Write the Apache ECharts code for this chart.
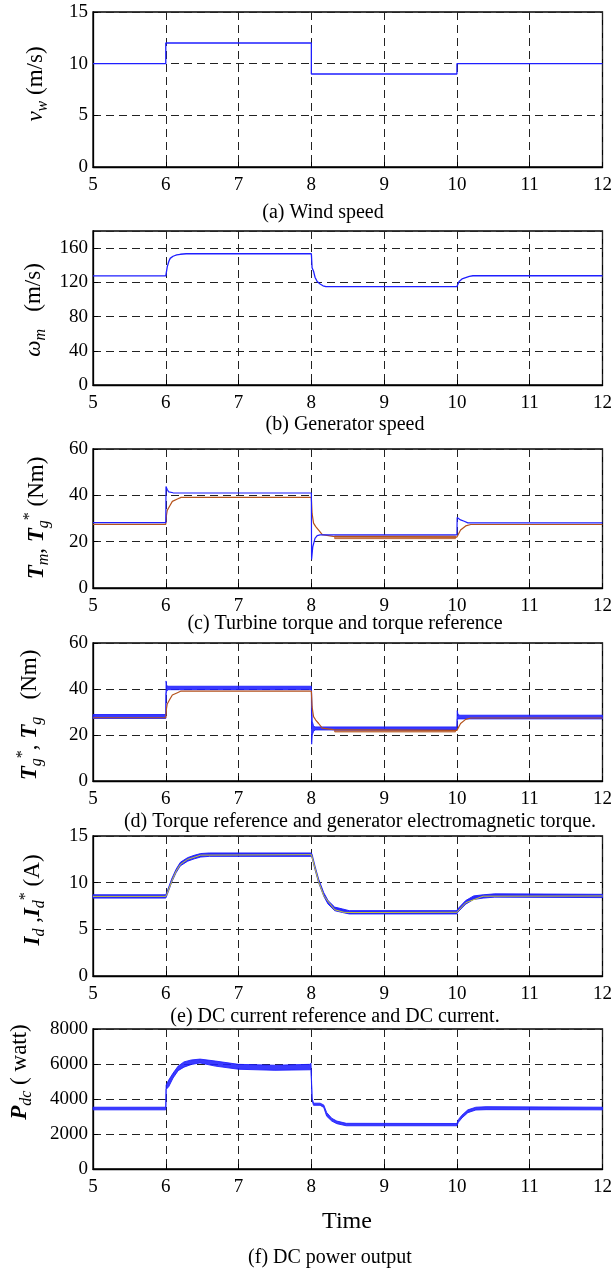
<!DOCTYPE html>
<html>
<head>
<meta charset="utf-8">
<script src="https://cdn.jsdelivr.net/npm/echarts@6/dist/echarts.min.js"></script>
<style>
  html, body { margin: 0; padding: 0; background: #fff; }
  #chart { width: 615px; height: 1273px; }
</style>
</head>
<body>
<div id="chart"></div>
<script>
// x ticks shared by all panels
var timeTicks = [5, 6, 7, 8, 9, 10, 11, 12];

// (a) wind speed
var windT = [5, 6, 6, 8, 8, 10, 10, 12];
var windV = [10, 10, 12, 12, 9, 9, 10, 10];

// (b) generator speed
var speedT = [5, 6, 6.02, 6.04, 6.06, 6.1, 6.15, 6.2, 6.28, 8, 8.01, 8.03, 8.05, 8.08, 8.12, 8.16, 8.2, 10, 10.03, 10.07, 10.12, 10.17, 10.22, 12];
var speedV = [127.5, 127.5, 138, 144, 148, 150.5, 152, 152.8, 153.4, 153.4, 137, 133, 126, 121, 118, 116, 115, 115, 121, 124, 125.5, 127, 127.7, 127.7];

// (c) turbine torque Tm (blue)
var tmT = [5, 6, 6.003, 6.02, 6.04, 6.06, 6.1, 6.13, 8, 8.003, 8.02, 8.05, 8.08, 8.12, 10, 10.003, 10.05, 10.1, 10.15, 12];
var tmV = [28.2, 28.2, 43.8, 42.5, 41.5, 41.8, 41.1, 41.0, 41.0, 12.3, 17.8, 21.4, 22.6, 22.9, 22.9, 30.4, 29.4, 28.8, 28.1, 28.1];

// torque reference Tg* (brown), used in (c) and (d)
var trT = [5, 6, 6.01, 6.02, 6.05, 6.09, 6.16, 6.21, 8, 8.01, 8.03, 8.06, 8.1, 8.15, 8.3, 10, 10.05, 10.12, 10.19, 12];
var trV = [27.5, 27.5, 31.6, 33.5, 35.2, 37.4, 38.4, 39.1, 39.1, 32.2, 28, 26.5, 25, 23, 22.3, 22, 25, 26.8, 27.4, 27.4];
// ripple of Tg* between 8.3 s and 10 s
var trRipT = [8.32, 9.98];
var trRipLo = [21.3, 21.3];
var trRipHi = [22.5, 22.5];

// (d) electromagnetic torque Tg (blue, noisy band)
var tgT  = [5, 6, 6.004, 6.012, 6.03, 8, 8.004, 8.012, 8.03, 8.05, 10, 10.004, 10.015, 10.04, 12];
var tgLo = [27.2, 27.2, 38.0, 39.0, 39.7, 39.7, 16, 20, 21.5, 22.2, 22.2, 27.0, 27.0, 27.0, 27.0];
var tgHi = [28.9, 28.9, 43.5, 41.5, 41.2, 41.2, 38, 26, 24, 23.5, 23.5, 30.6, 28.9, 28.6, 28.6];

// (e) DC current Id (blue band) and reference Id* (yellow, mostly hidden under Id)
var idT  = [5, 6, 6.02, 6.08, 6.14, 6.2, 6.3, 6.39, 6.48, 6.6, 8, 8.01, 8.05, 8.1, 8.17, 8.23, 8.32, 8.43, 8.52, 10, 10.01, 10.12, 10.23, 10.36, 10.52, 12];
var idLo = [8.35, 8.35, 8.72, 10.02, 11.05, 11.8, 12.3, 12.55, 12.75, 12.82, 12.82, 12.65, 11.4, 10.0, 8.55, 7.7, 7.0, 6.8, 6.65, 6.65, 6.82, 7.7, 8.2, 8.35, 8.45, 8.4];
var idHi = [8.7, 8.7, 9.08, 10.38, 11.42, 12.18, 12.68, 12.93, 13.12, 13.18, 13.18, 13.03, 11.78, 10.38, 8.93, 8.08, 7.38, 7.18, 7.0, 7.0, 7.18, 8.08, 8.58, 8.7, 8.8, 8.75];
var idRefT = [5, 6, 6.02, 6.08, 6.14, 6.2, 6.3, 6.48, 8, 8.05, 8.1, 8.17, 8.32, 8.45, 8.6, 10, 10.12, 10.36, 12];
var idRefV = [8.53, 8.53, 8.85, 10.1, 11.2, 11.95, 12.5, 12.95, 13.0, 11.55, 10.1, 8.6, 7.1, 6.82, 6.8, 6.83, 7.85, 8.55, 8.57];

// (f) DC power (blue band)
var pT  = [5, 6, 6.005, 6.04, 6.1, 6.17, 6.25, 6.35, 6.47, 6.68, 7.0, 7.5, 7.98, 7.995, 8.01, 8.03, 8.12, 8.17, 8.21, 8.28, 8.35, 8.48, 10, 10.02, 10.07, 10.15, 10.26, 10.4, 12];
var pLo = [3380, 3380, 4550, 4700, 5200, 5620, 5820, 5970, 6060, 5880, 5700, 5640, 5670, 5700, 3920, 3640, 3640, 3520, 3020, 2740, 2590, 2470, 2470, 2670, 2920, 3220, 3370, 3390, 3380];
var pHi = [3530, 3530, 4800, 5080, 5480, 5880, 6120, 6230, 6280, 6170, 5980, 5930, 5980, 6050, 4050, 3760, 3760, 3660, 3230, 2900, 2740, 2610, 2600, 2830, 3080, 3380, 3530, 3560, 3530];

var FONT = '"Liberation Serif", "Times New Roman", serif';
var BLUE = '#1f1fff';
var BROWN = '#b5531c';
var YELLOW = '#eeee00';

function pairs(t, v) {
    return t.map(function (x, i) { return [x, v[i]]; });
}

function line(idx, t, v, color, width) {
    return {
        type: 'line', xAxisIndex: idx, yAxisIndex: idx,
        data: pairs(t, v), symbol: 'none', silent: true,
        lineStyle: { color: color, width: width || 1.2 }
    };
}

// noisy trace drawn as a filled band between lo and hi
function band(idx, t, lo, hi, color, opacity) {
    return {
        type: 'custom', xAxisIndex: idx, yAxisIndex: idx, silent: true, z: 3,
        data: pairs(t, lo),
        renderItem: function (params, api) {
            if (params.dataIndex !== 0) return null;
            var pts = [];
            for (var i = 0; i < t.length; i++) pts.push(api.coord([t[i], lo[i]]));
            for (var j = t.length - 1; j >= 0; j--) pts.push(api.coord([t[j], hi[j]]));
            return {
                type: 'polygon', shape: { points: pts },
                style: { fill: color, stroke: color, lineWidth: 1, opacity: opacity }
            };
        }
    };
}

var grids = [
    { top: 12, height: 155 },
    { top: 231, height: 154 },
    { top: 449, height: 139 },
    { top: 643, height: 138 },
    { top: 836, height: 140 },
    { top: 1029, height: 140 }
];
var yMax = [15, 180, 60, 60, 15, 8000];
var yStep = [5, 40, 20, 20, 5, 2000];

var dash = { type: [8, 5], color: '#222', width: 1 };

var option = {
    animation: false,
    backgroundColor: '#fff',
    grid: grids.map(function (g) {
        return { left: 93, right: 12, top: g.top, height: g.height, show: true,
                 borderColor: '#000', borderWidth: 1.3, backgroundColor: 'transparent' };
    }),
    xAxis: grids.map(function (g, i) {
        return {
            type: 'value', gridIndex: i, min: 5, max: 12, interval: 1,
            axisLine: { lineStyle: { color: '#000', width: 1.3 } },
            axisTick: { inside: true, length: 5, lineStyle: { color: '#000' } },
            axisLabel: { color: '#000', fontFamily: FONT, fontSize: 19, margin: 9,
                         formatter: function (v) { return timeTicks.indexOf(v) >= 0 ? String(v) : ''; } },
            splitLine: { show: true, lineStyle: dash }
        };
    }),
    yAxis: grids.map(function (g, i) {
        return {
            type: 'value', gridIndex: i, min: 0, max: yMax[i], interval: yStep[i],
            axisLine: { show: true, lineStyle: { color: '#000', width: 1.3 } },
            axisTick: { show: true, inside: true, length: 5, lineStyle: { color: '#000' } },
            axisLabel: { color: '#000', fontFamily: FONT, fontSize: 19, margin: 5,
                         showMaxLabel: i !== 1,
                         formatter: function (v) { return String(v); } },
            splitLine: { show: true, lineStyle: dash }
        };
    }),
    series: [].concat(
        line(0, windT, windV, BLUE, 1.3),
        line(1, speedT, speedV, BLUE, 1.3),
        line(2, trT, trV, BROWN, 1.2),
        band(2, trRipT, trRipLo, trRipHi, BROWN, 0.7),
        line(2, tmT, tmV, BLUE, 1.2),
        line(3, trT, trV, BROWN, 1.2),
        band(3, trRipT, trRipLo, trRipHi, BROWN, 0.7),
        band(3, tgT, tgLo, tgHi, BLUE, 0.88),
        line(4, idRefT, idRefV, YELLOW, 0.8),
        band(4, idT, idLo, idHi, BLUE, 0.95),
        band(5, pT, pLo, pHi, BLUE, 0.88)
    )
};

// axis names with subscripts and superscripts
var richStyle = {
    i:   { fontFamily: FONT, fontSize: 23, fontStyle: 'italic', lineHeight: 30 },
    bi:  { fontFamily: FONT, fontSize: 23, fontStyle: 'italic', fontWeight: 'bold', lineHeight: 30 },
    sub: { fontFamily: FONT, fontSize: 16, fontStyle: 'italic', lineHeight: 14, verticalAlign: 'bottom' },
    sup: { fontFamily: FONT, fontSize: 16, lineHeight: 14, verticalAlign: 'top' }
};
function yName(x, y, text) {
    return {
        type: 'text', x: x, y: y, rotation: Math.PI / 2, silent: true,
        style: { text: text, rich: richStyle, fontFamily: FONT, fontSize: 23, lineHeight: 30,
                 fill: '#000', align: 'center', verticalAlign: 'middle' }
    };
}
function caption(x, y, text, size) {
    return {
        type: 'text', x: x, y: y, silent: true,
        style: { text: text, fontFamily: FONT, fontSize: size || 20, fill: '#000',
                 align: 'center', verticalAlign: 'middle' }
    };
}

option.graphic = [
    yName(36, 84, '{i|v}{sub|w} (m/s)'),
    yName(34, 310, '{i|ω}{sub|m}   (m/s)'),
    yName(37, 518, '{bi|T}{sub|m}, {bi|T}{sub|g}{sup|*} (Nm)'),
    yName(30, 715, '{bi|T}{sub|g}{sup|*}, {bi|T}{sub|g}   (Nm)'),
    yName(33, 900, '{bi|I}{sub|d} ,{bi|I}{sub|d}{sup|*} (A)'),
    yName(20, 1072, '{bi|P}{sub|dc} ( watt)'),
    caption(323, 213, '(a) Wind speed'),
    caption(345, 425, '(b) Generator speed'),
    caption(345, 624, '(c) Turbine torque and torque reference'),
    caption(360, 822, '(d) Torque reference and generator electromagnetic torque.'),
    caption(335, 1017, '(e) DC current reference and DC current.'),
    caption(347, 1222, 'Time', 24),
    caption(330, 1258, '(f) DC power output')
];

var chart = echarts.init(document.getElementById('chart'));
chart.setOption(option);
</script>
</body>
</html>
